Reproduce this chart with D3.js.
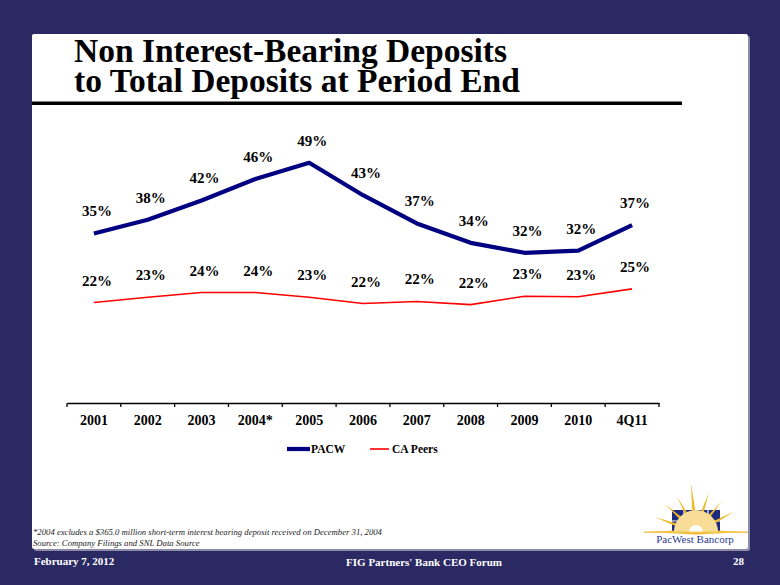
<!DOCTYPE html>
<html>
<head>
<meta charset="utf-8">
<script src="https://cdn.jsdelivr.net/npm/d3@7"></script>
<style>
  html, body { margin: 0; padding: 0; background: #2b2963; }
  svg { display: block; }
  text { font-family: "Liberation Serif", "Times New Roman", serif; }
</style>
</head>
<body>
<svg id="chart" width="780" height="585"></svg>
<script>
"use strict";

var categories = ["2001", "2002", "2003", "2004*", "2005", "2006", "2007", "2008", "2009", "2010", "4Q11"];
var pacw = [35.4, 38.0, 41.7, 45.8, 48.9, 42.7, 37.3, 33.6, 31.7, 32.1, 37.0];
var caPeers = [22.2, 23.2, 24.1, 24.1, 23.2, 22.0, 22.4, 21.8, 23.4, 23.3, 24.8];
var seriesNames = ["PACW", "CA Peers"];

var svg = d3.select("#chart");

// slide background + white panel
svg.append("rect").attr("width", 780).attr("height", 585).attr("fill", "#2b2963");
svg.append("rect").attr("x", 34).attr("y", 36).attr("width", 716).attr("height", 515)
	.attr("fill", "#8d8ca8").attr("rx", 2);
svg.append("rect").attr("x", 32).attr("y", 34).attr("width", 716).attr("height", 515)
	.attr("fill", "#ffffff").attr("rx", 2);

// title
svg.append("text").attr("x", 74).attr("y", 62).attr("font-size", 33.5).attr("font-weight", "bold").attr("fill", "#000")
	.text("Non Interest-Bearing Deposits");
svg.append("text").attr("x", 74).attr("y", 92).attr("font-size", 33.5).attr("font-weight", "bold").attr("fill", "#000")
	.text("to Total Deposits at Period End");

svg.append("rect").attr("x", 32).attr("y", 101.5).attr("width", 650).attr("height", 3.5).attr("fill", "#000");

// scales
var xScale = d3.scaleBand().domain(categories).range([67, 659]).padding(0);
var yScale = d3.scaleLinear().domain([3, 50]).range([403, 157]);
var cx = function(d, i){ return xScale(categories[i]) + xScale.bandwidth() / 2; };

// x axis
var xAxisG = svg.append("g")
	.attr("id", "xAxisG")
	.attr("transform", "translate(0,403)")
	.call(d3.axisBottom(xScale).tickSize(0).tickPadding(12));
xAxisG.select(".domain").attr("stroke", "#000").attr("stroke-width", 1.3);
xAxisG.selectAll(".tick text")
	.attr("font-family", "Liberation Serif, serif")
	.attr("font-size", 14)
	.attr("font-weight", "bold")
	.attr("fill", "#000");

var boundaries = categories.map(function(c){ return xScale(c); }).concat([xScale.range()[1]]);
xAxisG.selectAll("line.bound")
	.data(boundaries)
	.enter()
	.append("line")
	.attr("class", "bound")
	.attr("x1", function(d){ return d; })
	.attr("x2", function(d){ return d; })
	.attr("y1", 0)
	.attr("y2", 4)
	.attr("stroke", "#000")
	.attr("stroke-width", 1.3);

// lines
var line = d3.line()
	.x(cx)
	.y(function(d){ return yScale(d); });

svg.append("path")
	.attr("d", line(caPeers))
	.attr("fill", "none")
	.attr("stroke", "#ff0000")
	.attr("stroke-width", 1.6);

svg.append("path")
	.attr("d", line(pacw))
	.attr("fill", "none")
	.attr("stroke", "#000080")
	.attr("stroke-width", 4.2)
	.attr("stroke-linejoin", "round");

// data labels
function labels(data, cls){
	svg.selectAll("text." + cls)
		.data(data)
		.enter()
		.append("text")
		.attr("class", cls)
		.attr("x", function(d, i){ return cx(d, i) + 3; })
		.attr("y", function(d){ return yScale(d) - 17; })
		.attr("text-anchor", "middle")
		.attr("font-size", 15)
		.attr("font-weight", "bold")
		.attr("fill", "#000")
		.text(function(d){ return Math.round(d) + "%"; });
}
labels(pacw, "lblPacw");
labels(caPeers, "lblPeers");

// legend
var legend = svg.append("g").attr("transform", "translate(0,449)");
legend.append("line").attr("x1", 287).attr("x2", 310).attr("y1", 0).attr("y2", 0)
	.attr("stroke", "#000080").attr("stroke-width", 4.2);
legend.append("text").attr("x", 311).attr("y", 4).attr("font-size", 11.5).attr("font-weight", "bold").text(seriesNames[0]);
legend.append("line").attr("x1", 370).attr("x2", 389).attr("y1", 0).attr("y2", 0)
	.attr("stroke", "#ff0000").attr("stroke-width", 1.6);
legend.append("text").attr("x", 392).attr("y", 4).attr("font-size", 11.5).attr("font-weight", "bold").text(seriesNames[1]);

// footnotes
svg.append("text").attr("x", 33).attr("y", 535).attr("font-size", 8.7).attr("font-style", "italic").attr("fill", "#222")
	.text("*2004 excludes a $365.0 million short-term interest bearing deposit received on December 31, 2004");
svg.append("text").attr("x", 33).attr("y", 545.5).attr("font-size", 8.7).attr("font-style", "italic").attr("fill", "#222")
	.text("Source: Company Filings and SNL Data Source");

// footer
svg.append("text").attr("x", 34).attr("y", 565).attr("font-size", 11).attr("font-weight", "bold").attr("fill", "#fff").text("February 7, 2012");
svg.append("text").attr("x", 424).attr("y", 566).attr("text-anchor", "middle").attr("font-size", 11).attr("font-weight", "bold").attr("fill", "#fff").text("FIG Partners' Bank CEO Forum");
svg.append("text").attr("x", 744).attr("y", 565).attr("text-anchor", "end").attr("font-size", 11).attr("font-weight", "bold").attr("fill", "#fff").text("28");

// logo
var logo = svg.append("g").attr("transform", "translate(696,532)");
logo.append("rect").attr("x", -24).attr("y", -22).attr("width", 48).attr("height", 22).attr("fill", "#1d2a80");
[-12, 0, 12].forEach(function(x){
	logo.append("line").attr("x1", x).attr("x2", x).attr("y1", -22).attr("y2", 0).attr("stroke", "#fff").attr("stroke-width", 1.2);
});
logo.append("line").attr("x1", -24).attr("x2", 24).attr("y1", -11).attr("y2", -11).attr("stroke", "#fff").attr("stroke-width", 1.2);
var rays = [[180, 51], [160, 44], [138, 42], [118, 40], [96, 50], [72, 42], [50, 40], [28, 44], [0, 51]];
rays.forEach(function(r){
	var a = r[0] * Math.PI / 180, len = r[1], w = 2.6;
	var tx = Math.cos(a) * len, ty = -Math.sin(a) * len;
	var px = -Math.sin(a) * w, py = -Math.cos(a) * w;
	logo.append("path")
		.attr("d", "M" + px + "," + py + "L" + tx + "," + ty + "L" + (-px) + "," + (-py) + "Z")
		.attr("fill", "#f0b823");
});
logo.append("path").attr("d", d3.arc()({innerRadius: 0, outerRadius: 22, startAngle: -Math.PI / 2, endAngle: Math.PI / 2}))
	.attr("fill", "#f7dd97");
logo.append("path").attr("d", d3.arc()({innerRadius: 0, outerRadius: 7, startAngle: -Math.PI / 2, endAngle: Math.PI / 2}))
	.attr("fill", "#fff");
logo.append("rect").attr("x", -52).attr("y", -0.5).attr("width", 104).attr("height", 1.5).attr("fill", "#f0c850");
svg.append("text").attr("x", 695).attr("y", 543).attr("text-anchor", "middle").attr("font-size", 11).attr("fill", "#2b3990").text("PacWest Bancorp");
</script>
</body>
</html>
